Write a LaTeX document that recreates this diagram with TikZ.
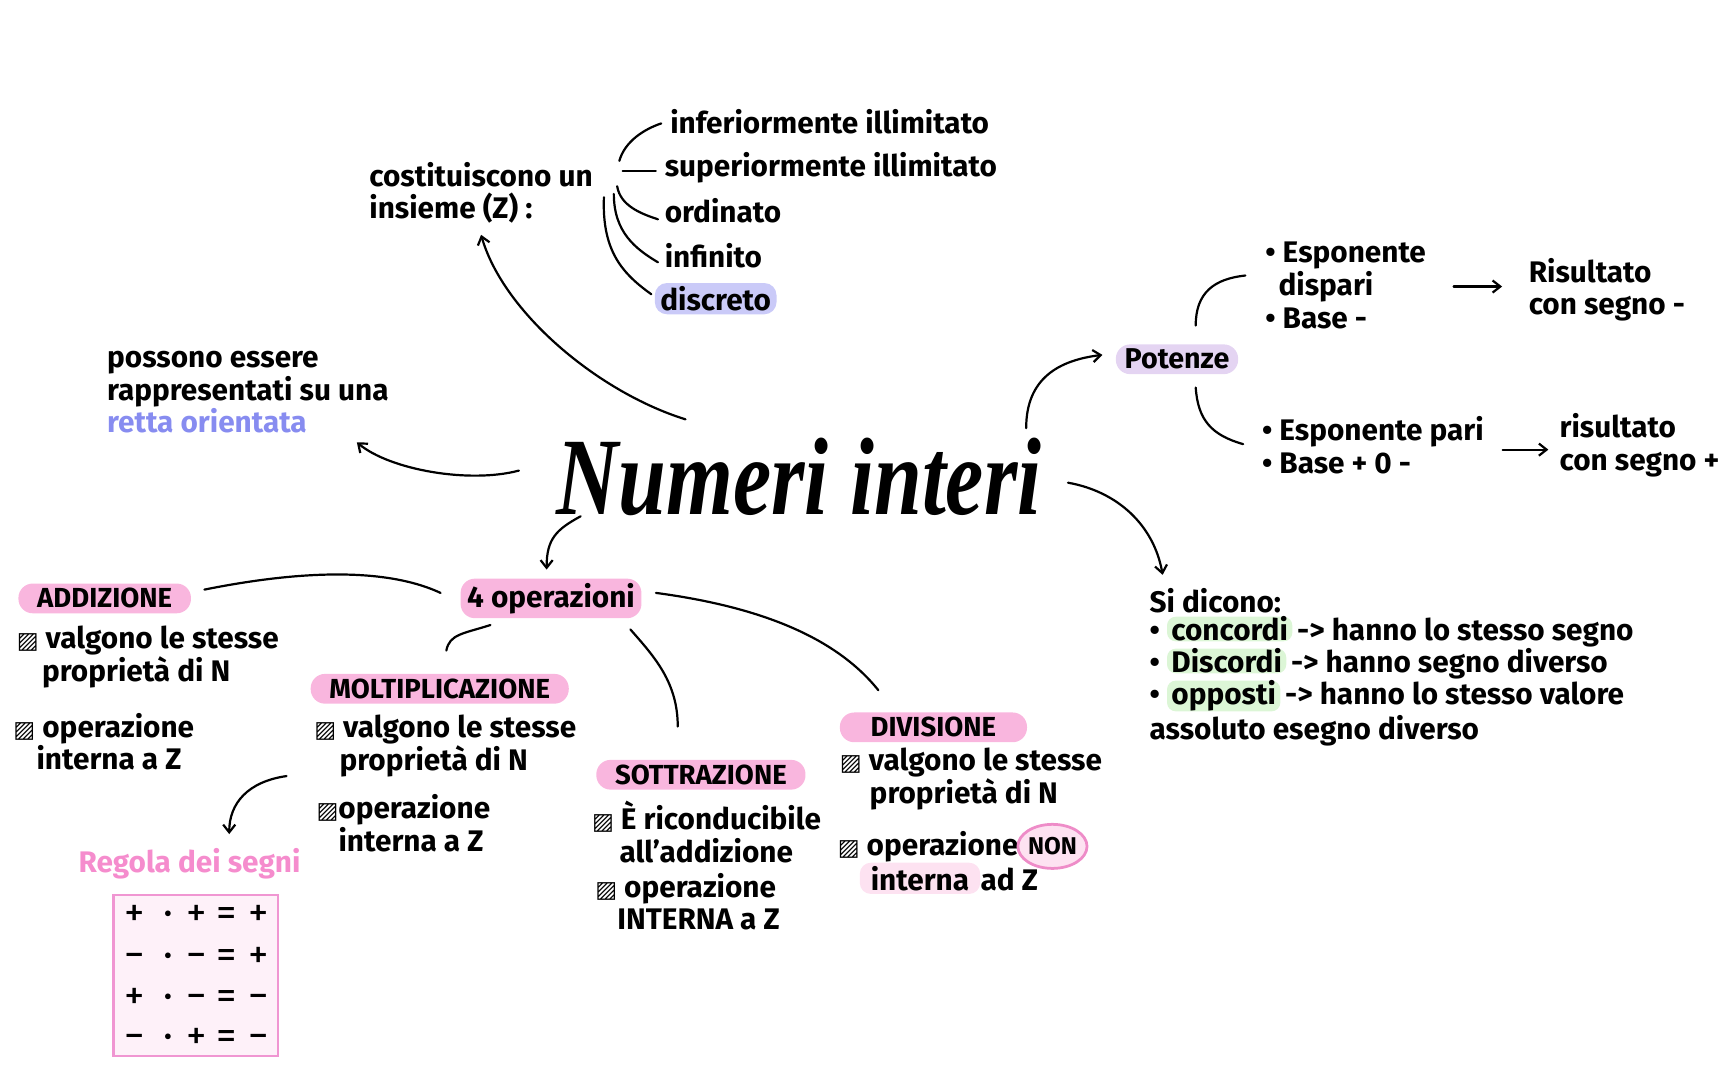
\documentclass[tikz,border=0pt]{standalone}
\usepackage{fontspec}
\setmainfont{Fira Sans}
\newfontfamily\symfont{DejaVu Sans}
\newfontfamily\titlefont{Liberation Serif}[FakeStretch=0.78]
\usetikzlibrary{arrows.meta,calc,shapes.geometric}
\definecolor{pinkpill}{RGB}{249,182,222}
\definecolor{lavpill}{RGB}{228,212,242}
\definecolor{lavblue}{RGB}{202,202,248}
\definecolor{lightgreen}{RGB}{220,246,214}
\definecolor{lightpink}{RGB}{253,226,241}
\definecolor{ringpink}{RGB}{238,140,200}
\definecolor{regolapink}{RGB}{245,140,205}
\definecolor{boxpink}{RGB}{240,150,210}
\definecolor{boxfill}{RGB}{254,241,249}
\definecolor{rettablue}{RGB}{135,140,240}
\newcommand\hatch{{\symfont\bfseries\fontsize{21}{21}\selectfont ▨}}
\newcommand\srow[3]{\makebox[34pt]{#1}\makebox[26pt]{·}\makebox[26pt]{#2}\makebox[28pt]{=}\makebox[30pt]{#3}}
\begin{document}
\begin{tikzpicture}[x=1pt,y=-1pt,
  txt/.style={font=\fontsize{27}{29.5}\selectfont\bfseries, inner sep=0pt, align=left, anchor=west},
  pill/.style={font=\fontsize{25}{27}\selectfont\bfseries, fill=pinkpill, rounded corners=13pt, inner xsep=17pt, inner ysep=4pt, minimum height=27pt},
  hlg/.style={font=\fontsize{27}{29.5}\selectfont\bfseries, fill=lightgreen, rounded corners=8pt, inner xsep=4pt, inner ysep=0pt},
  signrow/.style={font=\fontsize{37}{37}\selectfont, inner sep=0pt},
  conn/.style={line width=2pt, line cap=round},
  arr/.style={conn, -{Straight Barb[length=7pt,width=11pt]}},
]
\useasboundingbox (0,0) rectangle (1568,980);

% title
\node[inner sep=0pt, font=\titlefont\fontsize{100}{104}\selectfont\bfseries\itshape] (title) at (725,433) {Numeri interi};

% top branch
\node[txt] (costit) at (335,175) {costituiscono un\\insieme (Z) :};
\node[txt] (i1) at (608,110) {inferiormente illimitato};
\node[txt] (i2) at (603,152) {superiormente illimitato};
\node[txt] (i3) at (603,191) {ordinato};
\node[txt] (i4) at (603,232) {infinito};
\node[txt, fill=lavblue, rounded corners=11pt, inner xsep=5pt, inner ysep=3pt] (i5) at (594,271) {discreto};

\draw[conn] ($(i1.west)+(-46,36)$) .. controls +(5,-18) and +(-15,5) .. ($(i1.west)+(-8,2)$);
\draw[conn] ($(i2.west)+(-38,3)$) -- ($(i2.west)+(-8,3)$);
\draw[conn] ($(i3.west)+(-43,-22)$) .. controls +(3,18) and +(-15,-5) .. ($(i3.west)+(-6,8)$);
\draw[conn] ($(i4.west)+(-46,-56)$) .. controls +(0,35) and +(-20,-12) .. ($(i4.west)+(-6,6)$);
\draw[conn] ($(i5.west)+(-46,-92)$) .. controls +(-2,50) and +(-25,-18) .. ($(i5.west)+(-3,-4)$);

\draw[arr] ($(title.north)+(-103,-17)$) .. controls +(-80,-25) and +(20,70) .. ($(costit.south)+(0,10)$);

% left
\node[txt] (retta) at (97,356) {possono essere\\rappresentati su una\\\textcolor{rettablue}{retta orientata}};
\draw[arr] ($(title.west)+(-34,-6)$) .. controls +(-45,12) and +(30,25) .. ($(retta.south east)+(-29,8)$);

% potenze
\node[pill, fill=lavpill, font=\fontsize{26}{28}\selectfont\bfseries, inner xsep=8pt] (potenze) at (1068,326) {Potenze};
\draw[arr] ($(title.north east)+(-14,-9)$) .. controls +(0,-45) and +(-40,5) .. ($(potenze.west)+(-12,-4)$);

\node[txt] (esp1) at (1148,259) {• Esponente\\\hspace*{12pt}dispari\\• Base -};
\node[txt] (ris1) at (1387,263) {Risultato\\con segno -};
\node[txt] (esp2) at (1145,404) {• Esponente pari\\• Base + 0 -};
\node[txt] (ris2) at (1415,404) {risultato\\con segno +};

\draw[conn] ($(potenze.north)+(17,-17)$) .. controls +(0,-30) and +(-28,3) .. ($(esp1.west)+(-18,-9)$);
\draw[conn] ($(potenze.south)+(17,12)$) .. controls +(2,30) and +(-28,-8) .. ($(esp2.west)+(-17,-1)$);
\draw[arr] ($(esp1.east)+(25,1)$) -- ($(ris1.west)+(-24,-3)$);
\draw[arr] ($(esp2.east)+(17,4)$) -- ($(ris2.west)+(-10,4)$);

% si dicono
\node[txt] (sd0) at (1043,545) {Si dicono:};
\node[txt] (b1) at (1043,575) {•};
\node[hlg, anchor=base west] (c1) at ($(b1.base east)+(6,0)$) {concordi};
\node[txt, anchor=base west] (c1t) at ($(c1.base east)+(4,0)$) {-> hanno lo stesso segno};
\node[txt] (b2) at (1043,604) {•};
\node[hlg, anchor=base west] (c2) at ($(b2.base east)+(6,0)$) {Discordi};
\node[txt, anchor=base west] (c2t) at ($(c2.base east)+(4,0)$) {-> hanno segno diverso};
\node[txt] (b3) at (1043,633) {•};
\node[hlg, anchor=base west] (c3) at ($(b3.base east)+(6,0)$) {opposti};
\node[txt, anchor=base west] (c3t) at ($(c3.base east)+(4,0)$) {-> hanno lo stesso valore};
\node[txt] (sd4) at (1043,663) {assoluto esegno diverso};
\draw[arr] ($(title.east)+(24,5)$) .. controls +(45,8) and +(-8,-45) .. ($(sd0.north west)+(12,-12)$);

% operations
\node[pill, font=\fontsize{27}{30}\selectfont\bfseries, inner xsep=6pt] (ops) at (500,543) {4 operazioni};
\draw[arr] ($(title.south west)+(22,0)$) .. controls +(-22,12) and +(0,-28) .. ($(ops.north)+(-4,-8)$);

\node[pill] (add) at (95,543) {ADDIZIONE};
\draw[conn] ($(ops.west)+(-18,-5)$) .. controls +(-60,-28) and +(60,-12) .. ($(add.east)+(12,-8)$);
\node[txt] (ad1) at (15,596) {\hatch\ valgono le stesse\\\hspace*{23pt}proprietà di N};
\node[txt] (ad2) at (12,673) {\hatch\ operazione\\\hspace*{21pt}interna a Z};

\node[pill] (molt) at (399,625) {MOLTIPLICAZIONE};
\draw[conn] ($(ops.south)+(-55,6)$) .. controls +(-25,8) and +(3,-15) .. ($(molt.north)+(6,-21)$);
\node[txt] (mo1) at (285,677) {\hatch\ valgono le stesse\\\hspace*{23pt}proprietà di N};
\node[txt] (mo2) at (287,747) {\hatch operazione\\\hspace*{20pt}interna a Z};

\node[txt, anchor=center, text=regolapink] (reg) at (172,784) {Regola dei segni};
\draw[arr] ($(mo1.south west)+(-25,-1)$) .. controls +(-35,5) and +(0,-28) .. ($(reg.north)+(36,-13)$);
\node[draw=boxpink, fill=boxfill, line width=2pt, minimum width=149pt, minimum height=146pt, inner sep=0pt] (box) at (177.5,885) {};
\node[signrow] (r1) at (177.5,831) {\srow{+}{+}{+}};
\node[signrow] (r2) at (177.5,869) {\srow{−}{−}{+}};
\node[signrow] (r3) at (177.5,906) {\srow{+}{−}{−}};
\node[signrow] (r4) at (177.5,943) {\srow{−}{+}{−}};

\node[pill] (sott) at (636,703) {SOTTRAZIONE};
\draw[conn] ($(ops.south)+(72,10)$) .. controls +(22,25) and +(0,-40) .. ($(sott.north)+(-21,-30)$);
\node[txt] (so1) at (537,755) {\hatch\ È riconducibile\\\hspace*{25pt}all'addizione};
\node[txt] (so2) at (540,818) {\hatch\ operazione\\\hspace*{20pt}INTERNA a Z};

\node[pill, inner xsep=28pt] (div) at (847,660) {DIVISIONE};
\draw[conn] ($(ops.east)+(13,-5)$) .. controls +(90,12) and +(-40,-50) .. ($(div.north)+(-50,-20)$);
\node[txt] (di1) at (762,707) {\hatch\ valgono le stesse\\\hspace*{27pt}proprietà di N};
\node[txt] (dA) at (760,768) {\hatch\ operazione};
\node[ellipse, draw=ringpink, fill=lightpink, line width=2.5pt, inner sep=0pt, minimum width=56pt, minimum height=40pt, font=\fontsize{22}{24}\selectfont\bfseries, anchor=west] (non) at ($(dA.east)+(-2,0)$) {NON};
\node[txt, fill=lightpink, rounded corners=10pt, inner xsep=10pt, inner ysep=3pt] (dB) at (780,797) {interna};
\node[txt, anchor=base west] (dC) at ($(dB.base east)+(0,0)$) {ad Z};
\end{tikzpicture}
\end{document}
